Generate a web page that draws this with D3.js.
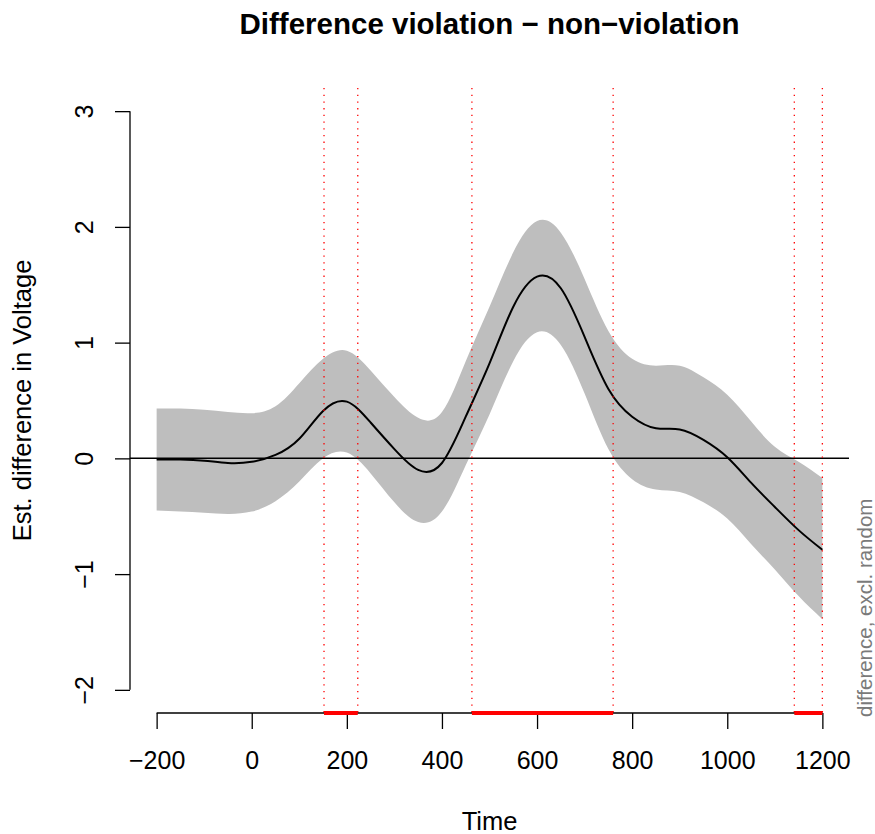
<!DOCTYPE html>
<html>
<head>
<meta charset="utf-8">
<script src="https://cdn.jsdelivr.net/npm/d3@7"></script>
<style>
  body { margin: 0; background: #fff; }
  svg { display: block; font-family: "Liberation Sans", Arial, Helvetica, sans-serif; }
</style>
</head>
<body>
<svg id="chart" width="875" height="834"></svg>
<script>
// ---- data ----
const times = [-200,-150,-100,-50,0,50,100,150,200,250,300,350,400,450,500,550,600,650,700,750,800,850,900,950,1000,1050,1100,1150,1200];
const fitValues = [-0.01,-0.01,-0.02,-0.04,-0.03,0.03,0.17,0.41,0.49,0.31,0.08,-0.10,-0.04,0.36,0.82,1.31,1.57,1.47,1.05,0.60,0.36,0.26,0.25,0.16,0.01,-0.21,-0.42,-0.62,-0.79];
const upperValues = [0.43,0.43,0.42,0.40,0.39,0.45,0.65,0.86,0.93,0.76,0.53,0.35,0.40,0.84,1.31,1.78,2.05,1.95,1.55,1.10,0.86,0.80,0.80,0.70,0.55,0.32,0.10,-0.03,-0.17];
const lowerValues = [-0.45,-0.46,-0.47,-0.48,-0.46,-0.37,-0.20,0.00,0.05,-0.13,-0.38,-0.55,-0.46,-0.06,0.38,0.84,1.09,0.98,0.56,0.08,-0.18,-0.27,-0.29,-0.38,-0.52,-0.74,-0.96,-1.19,-1.39];
const sigStart = [152, 463, 1141];
const sigEnd = [223, 760, 1200];
const xTicks = [-200, 0, 200, 400, 600, 800, 1000, 1200];
const yTicks = [-2, -1, 0, 1, 2, 3];
const titleText = "Difference violation \u2212 non\u2212violation";
const xLabel = "Time";
const yLabel = "Est. difference in Voltage";
const sideNote = "difference, excl. random";

// ---- layout ----
const svg = d3.select("#chart");
const plot = { left: 130, right: 849, top: 88, bottom: 713 };
const x = d3.scaleLinear().domain([-256, 1256]).range([plot.left, plot.right]);
const y = d3.scaleLinear().domain([-2.2, 3.2]).range([plot.bottom, plot.top]);
const fmt = v => (v < 0 ? "\u2212" + Math.abs(v) : String(v));

const rows = times.map((t, i) => ({ t, fit: fitValues[i], up: upperValues[i], lo: lowerValues[i] }));
const curve = d3.curveNatural;

// band
svg.append("path")
  .datum(rows)
  .attr("fill", "#bebebe")
  .attr("stroke", "none")
  .attr("d", d3.area().curve(curve).x(d => x(d.t)).y0(d => y(d.lo)).y1(d => y(d.up)));

// fit line
svg.append("path")
  .datum(rows)
  .attr("fill", "none")
  .attr("stroke", "#000")
  .attr("stroke-width", 2)
  .attr("d", d3.line().curve(curve).x(d => x(d.t)).y(d => y(d.fit)));

// zero line
svg.append("line")
  .attr("x1", plot.left).attr("x2", plot.right)
  .attr("y1", y(0)).attr("y2", y(0))
  .attr("stroke", "#000").attr("stroke-width", 1.5);

// significance: dotted verticals and red bars
const sigBounds = sigStart.concat(sigEnd);
svg.selectAll("line.sigv").data(sigBounds).enter().append("line")
  .attr("class", "sigv")
  .attr("x1", d => x(d)).attr("x2", d => x(d))
  .attr("y1", plot.top).attr("y2", plot.bottom)
  .attr("stroke", "#ff0000").attr("stroke-width", 1.3)
  .attr("stroke-dasharray", "1.3,5.4");

// x axis
const xg = svg.append("g").attr("transform", `translate(0,${plot.bottom})`);
xg.call(d3.axisBottom(x).tickValues(xTicks).tickFormat(fmt).tickSize(16).tickPadding(0));
xg.select(".domain").remove();
xg.append("line")
  .attr("x1", x(xTicks[0])).attr("x2", x(xTicks[xTicks.length - 1]))
  .attr("y1", 0).attr("y2", 0)
  .attr("stroke", "#000").attr("stroke-width", 1.3);
xg.selectAll(".tick line").attr("stroke", "#000").attr("stroke-width", 1.3);
xg.selectAll(".tick text")
  .attr("font-size", 25).attr("fill", "#000")
  .attr("dy", null).attr("y", 56);

// red bars on axis
svg.selectAll("line.sigbar").data(sigStart).enter().append("line")
  .attr("class", "sigbar")
  .attr("x1", d => x(d)).attr("x2", (d, i) => x(sigEnd[i]))
  .attr("y1", plot.bottom).attr("y2", plot.bottom)
  .attr("stroke", "#ff0000").attr("stroke-width", 4);

// y axis
const yg = svg.append("g").attr("transform", `translate(${plot.left},0)`);
yg.call(d3.axisLeft(y).tickValues(yTicks).tickFormat(fmt).tickSize(15).tickPadding(0));
yg.select(".domain").remove();
yg.append("line")
  .attr("x1", 0).attr("x2", 0)
  .attr("y1", y(yTicks[0])).attr("y2", y(yTicks[yTicks.length - 1]))
  .attr("stroke", "#000").attr("stroke-width", 1.3);
yg.selectAll(".tick line").attr("stroke", "#000").attr("stroke-width", 1.3);
yg.selectAll(".tick text")
  .attr("font-size", 25).attr("fill", "#000")
  .attr("x", null).attr("dy", null)
  .attr("text-anchor", "middle")
  .attr("transform", "translate(-37,0) rotate(-90)");

// title
svg.append("text")
  .attr("x", (plot.left + plot.right) / 2).attr("y", 34)
  .attr("text-anchor", "middle")
  .attr("font-size", 29.5).attr("font-weight", "bold")
  .text(titleText);

// x label
svg.append("text")
  .attr("x", (plot.left + plot.right) / 2).attr("y", 830)
  .attr("text-anchor", "middle")
  .attr("font-size", 25.5)
  .text(xLabel);

// y label
svg.append("text")
  .attr("transform", `translate(31,${(plot.top + plot.bottom) / 2}) rotate(-90)`)
  .attr("text-anchor", "middle")
  .attr("font-size", 25.5)
  .text(yLabel);

// side note
svg.append("text")
  .attr("transform", `translate(872,${plot.bottom + 4}) rotate(-90)`)
  .attr("text-anchor", "start")
  .attr("font-size", 20.5)
  .attr("fill", "#7a7a7a")
  .text(sideNote);
</script>
</body>
</html>
